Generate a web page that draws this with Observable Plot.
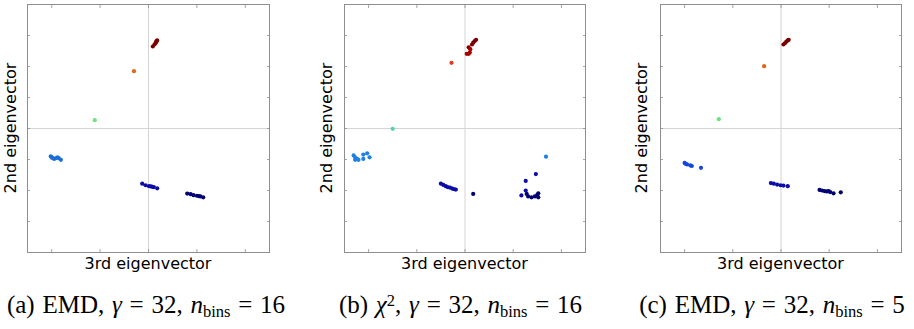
<!DOCTYPE html>
<html><head><meta charset="utf-8">
<script src="https://cdn.jsdelivr.net/npm/d3@7"></script>
<script src="https://cdn.jsdelivr.net/npm/@observablehq/plot@0.6"></script>
<style>
body{margin:0;background:#fff;}
#root{position:relative;width:914px;height:329px;overflow:hidden;font-family:"DejaVu Sans",sans-serif;color:#000;}
.panel{position:absolute;top:0;}
.xl{position:absolute;font-size:16px;line-height:16px;white-space:nowrap;transform:translateX(-50%);}
.yl{position:absolute;font-size:16px;line-height:16px;white-space:nowrap;transform:translate(-50%,-50%) rotate(-90deg);}
.cap{position:absolute;font-family:"Liberation Serif",serif;font-size:25px;line-height:25px;word-spacing:1.5px;white-space:nowrap;transform:translateX(-50%);}
.cap sub{font-size:0.66em;vertical-align:-0.22em;line-height:0;}
.cap sup{font-size:0.66em;vertical-align:0.45em;line-height:0;}
</style></head>
<body><div id="root"></div>
<script>
// ticks (no labels in the reference)
const xTicks = [-2, -1, 0, 1, 2];
const yTicks = [-3, -2, -1, 0, 1, 2, 3];
const xDomain = [-2.5, 2.5];
const yDomain = [-4, 4];

// cluster groups and colours (jet-like)
const groups = ["k1", "k2", "k3", "k4", "k5", "k6", "k7", "k8", "k9", "k10", "k11"];
const groupColors = ["#7a0000", "#a80000", "#e0661c", "#e6391f", "#6ee27f", "#4fd6a6", "#1a6ed6", "#2080e0", "#1446df", "#0c0ca6", "#000072"];

// (a) EMD, gamma=32, nbins=16
const aX = [0.089, 0.124, 0.144, 0.159, 0.170, 0.179,
  -0.30,
  -1.11,
  -2.02, -1.99, -1.95, -1.92, -1.88, -1.85, -1.81, -2.00,
  -0.13, -0.06, 0.01, 0.05, 0.08, 0.11, 0.18,
  0.80, 0.87, 0.93, 1.00, 1.04, 1.07, 1.13];
const aY = [2.645, 2.71, 2.75, 2.80, 2.82, 2.84,
  1.85,
  0.27,
  -0.90, -0.95, -0.98, -0.96, -0.93, -0.96, -1.01, -0.92,
  -1.78, -1.83, -1.86, -1.87, -1.88, -1.89, -1.93,
  -2.10, -2.12, -2.15, -2.17, -2.18, -2.19, -2.22];
const aG = ["k1", "k1", "k1", "k1", "k1", "k1",
  "k3",
  "k5",
  "k7", "k7", "k7", "k7", "k7", "k7", "k7", "k7",
  "k10", "k10", "k10", "k10", "k10", "k10", "k10",
  "k11", "k11", "k11", "k11", "k11", "k11", "k11"];

// (b) chi^2, gamma=32, nbins=16
const bX = [0.035, 0.076, 0.10, 0.076, 0.11, 0.145, 0.17, 0.20, 0.23,
  -0.28,
  -1.50,
  -2.31, -2.28, -2.24, -2.28, -2.21, -2.11, -2.11, -2.03, -1.98, 1.68,
  -0.50, -0.45, -0.40, -0.36, -0.31, -0.26, -0.22, -0.19,
  0.17,
  1.17, 1.26, 1.28, 1.31, 1.38, 1.45, 1.50, 1.52, 1.52, 1.26, 1.47];
const bY = [2.41, 2.41, 2.45, 2.62, 2.56, 2.71, 2.77, 2.82, 2.86,
  2.12,
  -0.01,
  -0.87, -0.93, -0.98, -1.01, -1.01, -0.98, -0.84, -0.80, -0.93, -0.91,
  -1.78, -1.82, -1.86, -1.89, -1.91, -1.94, -1.96, -1.97,
  -2.11,
  -2.16, -2.00, -2.11, -2.19, -2.22, -2.19, -2.14, -2.09, -2.22, -1.69, -1.47];
const bG = ["k2", "k2", "k2", "k1", "k2", "k1", "k1", "k1", "k1",
  "k4",
  "k6",
  "k8", "k8", "k8", "k8", "k8", "k8", "k8", "k8", "k8", "k8",
  "k10", "k10", "k10", "k10", "k10", "k10", "k10", "k10",
  "k11",
  "k10", "k10", "k11", "k11", "k11", "k11", "k11", "k11", "k11", "k10", "k10"];

// (c) EMD, gamma=32, nbins=5
const cX = [0.05, 0.08, 0.11, 0.14, 0.16,
  -0.35,
  -1.29,
  -2.00, -1.98, -1.95, -1.88, -1.85, -1.66,
  -0.21, -0.15, -0.08, -0.01, 0.05, 0.14,
  0.80, 0.85, 0.90, 0.95, 0.99, 1.02, 1.09, 1.24];
const cY = [2.71, 2.75, 2.80, 2.84, 2.86,
  2.01,
  0.30,
  -1.11, -1.14, -1.16, -1.19, -1.21, -1.27,
  -1.76, -1.78, -1.81, -1.83, -1.84, -1.86,
  -1.98, -2.00, -2.02, -2.03, -2.02, -2.05, -2.09, -2.06];
const cG = ["k1", "k1", "k1", "k1", "k1",
  "k3",
  "k5",
  "k9", "k9", "k9", "k9", "k9", "k9",
  "k10", "k10", "k10", "k10", "k10", "k10",
  "k11", "k11", "k11", "k11", "k11", "k11", "k11", "k11"];

const frameColor = "#8f8f8f";
const gridColor = "#d4d4d4";

function panel(X, Y, G, ml, mr, w) {
  const data = X.map((x, i) => ({x, y: Y[i], g: G[i]}));
  const tickOpts = {tickSize: -3, tickFormat: () => "", label: null, stroke: frameColor, strokeWidth: 0.8};
  return Plot.plot({
    width: w, height: 256,
    marginLeft: ml, marginRight: mr, marginTop: 4, marginBottom: 4,
    style: {background: "transparent", overflow: "visible"},
    x: {domain: xDomain, label: null},
    y: {domain: yDomain, label: null},
    color: {type: "ordinal", domain: groups, range: groupColors},
    marks: [
      Plot.ruleX([0], {stroke: gridColor, strokeWidth: 1}),
      Plot.ruleY([0], {stroke: gridColor, strokeWidth: 1}),
      Plot.axisX(xTicks, {anchor: "bottom", ...tickOpts}),
      Plot.axisX(xTicks, {anchor: "top", ...tickOpts}),
      Plot.axisY(yTicks, {anchor: "left", ...tickOpts}),
      Plot.axisY(yTicks, {anchor: "right", ...tickOpts}),
      Plot.frame({stroke: frameColor, strokeWidth: 1}),
      Plot.dot(data, {x: "x", y: "y", fill: "g", r: 2.1})
    ]
  });
}

const root = document.getElementById("root");
const specs = [
  {X: aX, Y: aY, G: aG, left: 0, ml: 27, mr: 15, w: 284, cx: 148, ylx: 10.5,
   cap: '(a) EMD, <i>γ</i> = 32, <i>n</i><sub>bins</sub> = 16', capx: 146},
  {X: bX, Y: bY, G: bG, left: 316, ml: 28, mr: 15, w: 284, cx: 464.5, ylx: 327,
   cap: '(b) <i>χ</i><sup>2</sup>, <i>γ</i> = 32, <i>n</i><sub>bins</sub> = 16', capx: 460.5},
  {X: cX, Y: cY, G: cG, left: 632, ml: 28, mr: 13, w: 282, cx: 780.5, ylx: 642,
   cap: '(c) EMD, <i>γ</i> = 32, <i>n</i><sub>bins</sub> = 5', capx: 772}
];
for (const s of specs) {
  const svg = panel(s.X, s.Y, s.G, s.ml, s.mr, s.w);
  svg.classList.add("panel");
  svg.style.left = s.left + "px";
  root.appendChild(svg);
  const xl = document.createElement("div");
  xl.className = "xl"; xl.textContent = "3rd eigenvector";
  xl.style.left = s.cx + "px"; xl.style.top = "256px";
  root.appendChild(xl);
  const yl = document.createElement("div");
  yl.className = "yl"; yl.textContent = "2nd eigenvector";
  yl.style.left = s.ylx + "px"; yl.style.top = "128px";
  root.appendChild(yl);
  const cap = document.createElement("div");
  cap.className = "cap"; cap.innerHTML = s.cap;
  cap.style.left = s.capx + "px"; cap.style.top = "292px";
  root.appendChild(cap);
}
</script>
</body></html>
